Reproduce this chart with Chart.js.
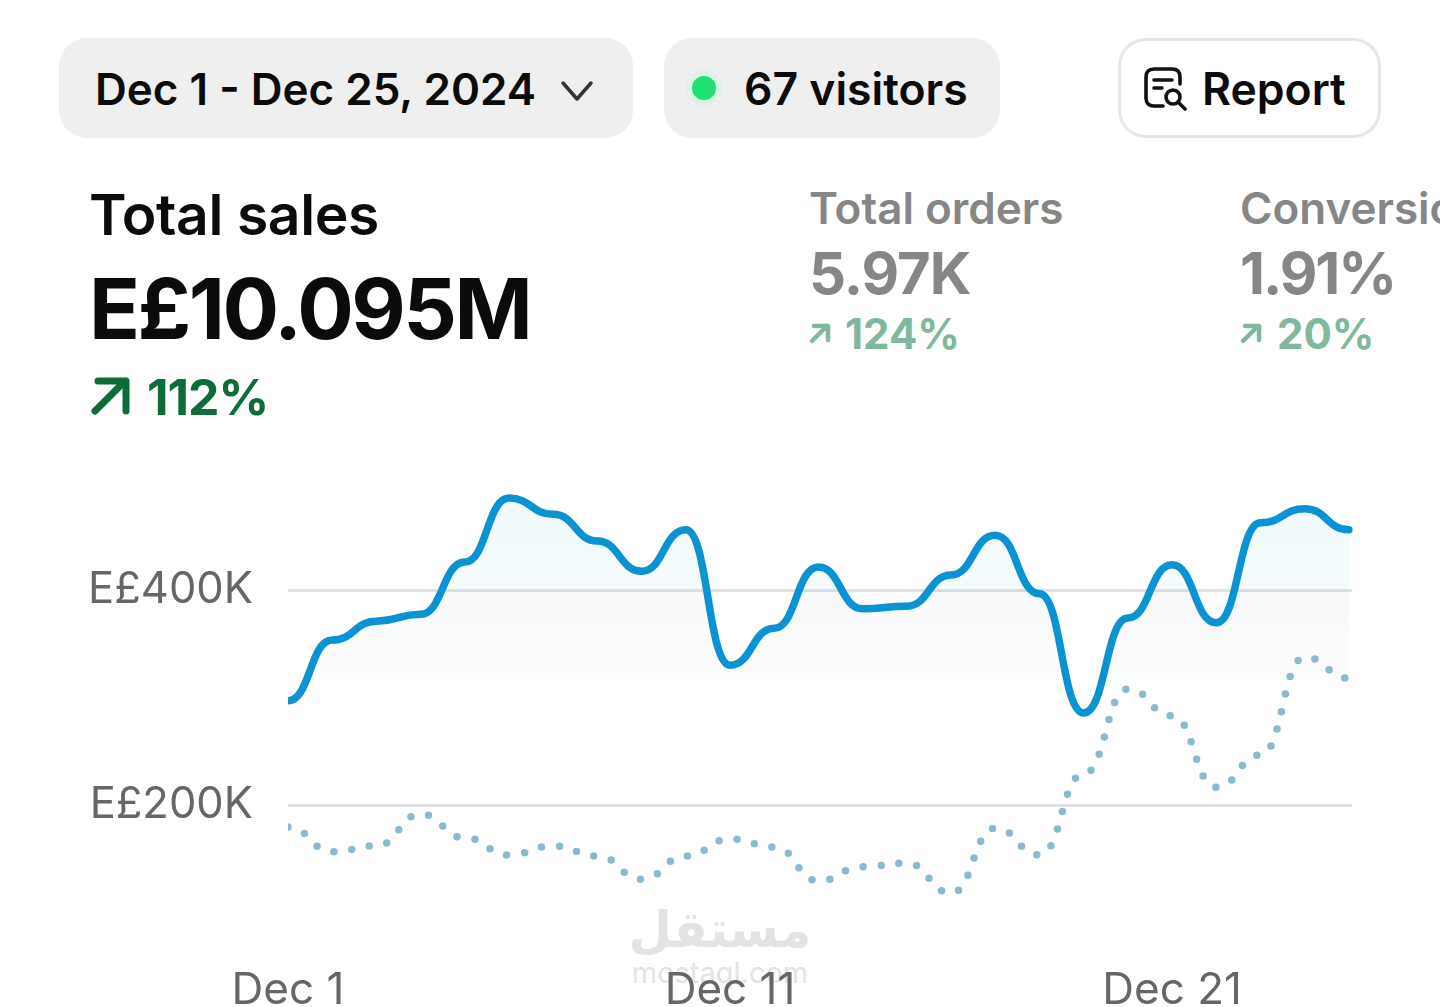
<!DOCTYPE html>
<html>
<head>
<meta charset="utf-8">
<title>Total sales</title>
<script src="https://cdn.jsdelivr.net/npm/chart.js@4"></script>
<style>
    html, body { margin: 0; padding: 0; background: #fff; }
    body { position: relative; width: 1440px; height: 1007px; overflow: hidden; font-family: Inter, sans-serif; }
    .pill { position: absolute; top: 38px; height: 100px; border-radius: 28px; background: #efefef; box-sizing: border-box; }
    .t { position: absolute; white-space: nowrap; line-height: 1; color: #0b0b0b; }
    .muted { color: #868686; }
    .up { color: #0e6b3a; }
    .up-soft { color: #7fb89c; }
    svg { position: absolute; }
    canvas { position: absolute; left: 0; top: 0; }
    .mark { position: absolute; left: 520px; width: 400px; text-align: center; color: #e3e3e3; line-height: 1; }
</style>
</head>
<body>
    <div class="pill" style="left:59px;width:574px"></div>
    <div class="pill" style="left:664px;width:336px"></div>
    <div class="pill" style="left:1118px;width:263px;background:#fff;border:3px solid #e6e6e6"></div>

    <span class="t" style="left:95px;top:67px;font-size:44px;font-weight:600">Dec 1 - Dec 25, 2024</span>
    <svg style="left:558px;top:78px" width="38" height="28" viewBox="0 0 38 28"><path d="M5 5 L19 21 L33 5" fill="none" stroke="#333" stroke-width="3.5" stroke-linecap="round" stroke-linejoin="round"/></svg>

    <svg style="left:684px;top:68px" width="40" height="40" viewBox="0 0 40 40"><circle cx="20" cy="20" r="18" fill="#ddf3e6"/><circle cx="20" cy="20" r="12" fill="#1ee072"/></svg>
    <span class="t" style="left:744px;top:67px;font-size:44.5px;font-weight:600">67 visitors</span>

    <svg style="left:1143px;top:66px" width="46" height="46" viewBox="0 0 46 46" fill="none" stroke="#111" stroke-width="3.6" stroke-linecap="round">
        <path d="M20 40 H11 Q3 40 3 32 V11 Q3 3 11 3 H29 Q37 3 37 11 V18"/>
        <path d="M11 14 H29 M11 22 H19"/>
        <circle cx="30" cy="31" r="7"/>
        <path d="M35 36 L42 43"/>
    </svg>
    <span class="t" style="left:1202px;top:67px;font-size:44.5px;font-weight:600">Report</span>

    <span class="t" style="left:89px;top:186px;font-size:57px;font-weight:600;letter-spacing:-0.4px">Total sales</span>
    <span class="t" style="left:89px;top:267px;font-size:84px;font-weight:700;letter-spacing:-2.5px">E£10.095M</span>
    <svg style="left:90px;top:376px" width="42" height="40" viewBox="0 0 42 40" fill="none" stroke="#0e6b3a" stroke-width="7" stroke-linecap="round" stroke-linejoin="round"><path d="M5 35 L35 5 M8 5 H36 V35"/></svg>
    <span class="t up" style="left:147px;top:372px;font-size:50px;font-weight:700;letter-spacing:-1px">112%</span>

    <span class="t muted" style="left:809px;top:186px;font-size:44px;font-weight:600">Total orders</span>
    <span class="t muted" style="left:809px;top:244px;font-size:58px;font-weight:700;letter-spacing:-1px">5.97K</span>
    <svg style="left:808px;top:321px" width="24" height="24" viewBox="0 0 24 24" fill="none" stroke="#7fb89c" stroke-width="4.5" stroke-linecap="round" stroke-linejoin="round"><path d="M4 20 L19 5 M6 5 H20 V19"/></svg>
    <span class="t up-soft" style="left:845px;top:313px;font-size:42px;font-weight:700">124%</span>

    <span class="t muted" style="left:1240px;top:186px;font-size:44px;font-weight:600">Conversion</span>
    <span class="t muted" style="left:1240px;top:244px;font-size:58px;font-weight:700;letter-spacing:-2px">1.91%</span>
    <svg style="left:1239px;top:321px" width="24" height="24" viewBox="0 0 24 24" fill="none" stroke="#7fb89c" stroke-width="4.5" stroke-linecap="round" stroke-linejoin="round"><path d="M4 20 L19 5 M6 5 H20 V19"/></svg>
    <span class="t up-soft" style="left:1277px;top:313px;font-size:42px;font-weight:700">20%</span>

    <div class="mark" style="top:905px;font-family:'DejaVu Sans';font-weight:700;font-size:50px">مستقل</div>
    <div class="mark" style="top:958px;font-size:29px">mostaql.com</div>

    <!-- taller than the page: the y axis reserves room under its lowest label, the overflow is cut by body -->
    <canvas id="sales" width="1440" height="1017"></canvas>

<script>
    const days = [1, 2, 3, 4, 5, 6, 7, 8, 9, 10, 11, 12, 13, 14, 15, 16, 17, 18, 19, 20, 21, 22, 23, 24, 25];
    const currentSales = [297000, 353500, 371000, 377500, 426000, 485500, 470500, 445500, 417500, 456000, 330000, 364500, 421500, 382500, 385000, 414000, 451000, 396500, 285500, 374000, 423500, 369500, 462500, 475500, 456000];
    const previousSales = [179500, 156500, 162000, 191500, 169500, 153500, 162000, 152500, 131000, 152500, 168500, 161000, 129500, 142500, 146000, 118000, 178500, 153500, 229000, 308000, 283000, 216500, 246500, 337500, 318000];
    const yTicks = [200000, 400000];
    const xTicks = [1, 11, 21];

    const toPoints = (values) => values.map((value, i) => ({ x: days[i], y: value }));

    // soft tint under the current line, cyan above the 400K gridline and grey below it
    const areaFill = (context) => {
        const { chart } = context;
        if (!chart.chartArea) return 'transparent';
        const y = chart.scales.y;
        const top = y.getPixelForValue(Math.max(...currentSales));
        const bottom = y.getPixelForValue(315000);
        const split = (y.getPixelForValue(400000) - top) / (bottom - top);
        const gradient = chart.ctx.createLinearGradient(0, top, 0, bottom);
        gradient.addColorStop(0, 'rgba(20,165,200,0.07)');
        gradient.addColorStop(split, 'rgba(20,165,200,0.04)');
        gradient.addColorStop(split + 0.01, 'rgba(60,80,110,0.04)');
        gradient.addColorStop(0.98, 'rgba(60,80,110,0.012)');
        gradient.addColorStop(1, 'rgba(60,80,110,0)');
        return gradient;
    };

    // horizontal handles at every point, gives the line its stepped, bumpy look
    const bumpCurve = {
        id: 'bumpCurve',
        afterDatasetsUpdate(chart) {
            chart.data.datasets.forEach((dataset, index) => {
                const meta = chart.getDatasetMeta(index);
                meta.dataset.updateControlPoints(chart.chartArea, 'x');
                const points = meta.data;
                points.forEach((point, i) => {
                    const prev = points[i - 1];
                    const next = points[i + 1];
                    if (prev) {
                        point.cp1x = point.x - (point.x - prev.x) * 0.5;
                        point.cp1y = point.y;
                    }
                    if (next) {
                        point.cp2x = point.x + (next.x - point.x) * 0.5;
                        point.cp2y = point.y;
                    }
                });
            });
        },
    };

    new Chart(document.getElementById('sales'), {
        type: 'line',
        data: {
            datasets: [
                {
                    label: 'Current period',
                    data: toPoints(currentSales),
                    borderColor: '#0a93d3',
                    borderWidth: 7.5,
                    borderCapStyle: 'round',
                    tension: 0.4,
                    pointRadius: 0,
                    fill: 'start',
                    backgroundColor: areaFill,
                    clip: { left: 0, top: 8, right: 8, bottom: 8 },
                },
                {
                    label: 'Previous period',
                    data: toPoints(previousSales),
                    borderColor: '#8bbad0',
                    borderWidth: 7.5,
                    borderCapStyle: 'round',
                    borderDash: [0, 18],
                    tension: 0.4,
                    pointRadius: 0,
                    fill: false,
                    clip: { left: 0, top: 8, right: 8, bottom: 8 },
                },
            ],
        },
        options: {
            responsive: false,
            animation: false,
            events: [],
            layout: {
                padding: { top: 482.5, right: 88, left: 0, bottom: 0 },
            },
            scales: {
                x: {
                    type: 'linear',
                    min: 1,
                    max: 25.07,
                    afterFit: (scale) => { scale.height = 61.5; },
                    afterBuildTicks: (scale) => { scale.ticks = xTicks.map((value) => ({ value })); },
                    grid: { display: false, drawTicks: false },
                    border: { display: false },
                    ticks: {
                        padding: 9,
                        maxRotation: 0,
                        autoSkip: false,
                        color: '#666',
                        font: { family: 'Inter', size: 44 },
                        callback: (value) => `Dec ${value}`,
                    },
                },
                y: {
                    min: 60000,
                    max: 500000,
                    afterFit: (scale) => { scale.width = 288; },
                    afterBuildTicks: (scale) => { scale.ticks = yTicks.map((value) => ({ value })); },
                    grid: { color: '#dfe1e4', lineWidth: 3, drawTicks: false },
                    border: { display: false },
                    ticks: {
                        padding: 35,
                        color: '#666',
                        font: { family: 'Inter', size: 43.5 },
                        callback: (value) => `E£${value / 1000}K`,
                    },
                },
            },
            plugins: {
                filler: { drawTime: 'beforeDatasetsDraw' },
                legend: { display: false },
                tooltip: { enabled: false },
            },
        },
        plugins: [bumpCurve],
    });
</script>
</body>
</html>
